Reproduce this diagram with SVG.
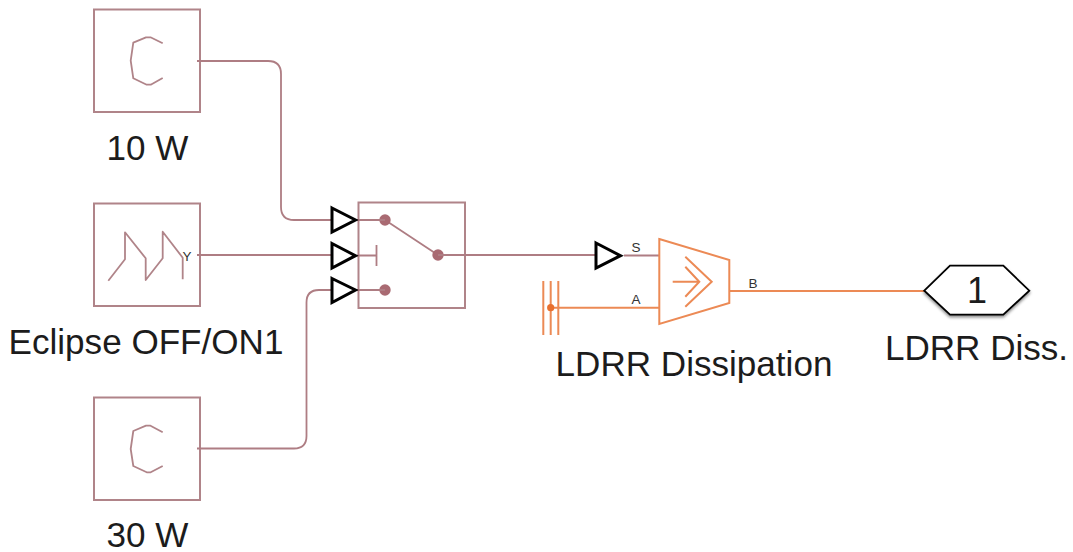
<svg xmlns="http://www.w3.org/2000/svg" width="1073" height="552" viewBox="0 0 1073 552">
<defs>
<style>
text{font-family:"Liberation Sans",Arial,sans-serif;fill:#1c1c1c}
.lbl{font-size:35.1px}
.port{font-size:13.500px;fill:#333}
.box{fill:#fff;stroke:#b08489;stroke-width:2}
.glyph{fill:none;stroke:#b08489;stroke-width:1.8;stroke-linejoin:round}
.wire{fill:none;stroke:#ae7d83;stroke-width:1.8}
.dot{fill:#a96a72;stroke:none}
.tri{fill:#fff;stroke:#000;stroke-width:3}
.or{fill:none;stroke:#ec8a55;stroke-width:2}
</style>
<filter id="sh" x="-10%" y="-10%" width="120%" height="130%"><feDropShadow dx="0" dy="2" stdDeviation="1.5" flood-color="#000" flood-opacity="0.45"/></filter>
</defs>
<rect width="1073" height="552" fill="#fff"/>
<g id="n10w">
<rect class="box" x="94" y="9.500" width="106" height="102.500"/>
<polyline class="glyph" points="162.700,43.300 150.500,37.300 146,37.300 133.300,42.700 130.700,60.700 133.300,78.300 146.700,84.700 150.700,84.700 162.700,78"/>
<text class="lbl" x="147.500" y="160" text-anchor="middle">10 W</text>
</g>
<g id="eclipse">
<rect class="box" x="94" y="203.500" width="106" height="102.500"/>
<polyline class="glyph" points="108.300,280.700 125,259.300 125,232.300 145.700,258.300 145.700,280 162.700,258.300 162.700,231.700 182.700,257.700 182.700,279.300"/>
<text class="port" x="187" y="260.700" text-anchor="middle">Y</text>
<text class="lbl" x="146" y="354" text-anchor="middle">Eclipse OFF/ON1</text>
</g>
<g id="n30w">
<rect class="box" x="94" y="397.500" width="106" height="102.500"/>
<polyline class="glyph" points="162.700,432.300 150.500,425.700 146,425.700 133.300,431 130.700,449 133.300,466 146.700,472.300 150.700,472.300 162.700,466"/>
<text class="lbl" x="147.500" y="547" text-anchor="middle">30 W</text>
</g>
<g id="switch">
<rect class="box" x="358.500" y="202.500" width="106.500" height="105.500"/>
<path class="wire" d="M376.500 245V266M385 220L438 255"/>
<circle class="dot" cx="385" cy="220" r="5.700"/>
<circle class="dot" cx="438" cy="255" r="5.700"/>
<circle class="dot" cx="385" cy="290" r="5.700"/>
</g>
<g id="connectors">
<path class="wire" d="M197 61H268Q281 61 281 74V207Q281 220 294 220H332"/>
<path class="wire" d="M197 255H332"/>
<path class="wire" d="M197 448.500H294Q306.500 448.500 306.500 436V302.500Q306.500 290 319 290H332"/>
<path class="wire" d="M357 220H385M357 255.500H376.500M357 290H385"/>
<path class="wire" d="M438 255H595M624 255.500H659"/>
<path class="or" d="M551 307.700H659"/>
<path class="or" d="M730 291H925"/>
</g>
<g id="inports">
<path class="tri" d="M332 208L355.500 220L332 232Z"/>
<path class="tri" d="M332 243.500L355.500 255.700L332 268Z"/>
<path class="tri" d="M332 278.500L355.500 290L332 302.500Z"/>
</g>
<g id="ldrr">
<path class="tri" d="M596 243L620.500 255.700L596 268Z"/>
<path class="or" d="M659.300 239L729.300 260V303L659.300 324Z"/>
<path class="or" d="M672.700 281.700H699.300M685.300 256.700L711.700 281.700L685.300 306.700M685.300 266.700L699.300 281.700L685.300 296.700"/>
<path class="or" d="M543.300 281V335M550.700 281V335M558.300 281V335"/>
<circle cx="550.700" cy="307.700" r="3.600" fill="#e8702f"/>
<text class="port" x="636" y="251.500" text-anchor="middle">S</text>
<text class="port" x="636" y="304" text-anchor="middle">A</text>
<text class="port" x="753" y="288" text-anchor="middle">B</text>
<text class="lbl" x="694" y="376" text-anchor="middle">LDRR Dissipation</text>
</g>
<g id="outport">
<polygon points="924.300,290.700 950,265.700 1003.300,265.700 1029.300,290.700 1003.300,314.700 950,314.700" fill="#fff" stroke="#000" stroke-width="1.800" filter="url(#sh)"/>
<text x="977" y="302.500" font-size="36" text-anchor="middle">1</text>
<text class="lbl" x="976.500" y="360" text-anchor="middle">LDRR Diss.</text>
</g>
</svg>
